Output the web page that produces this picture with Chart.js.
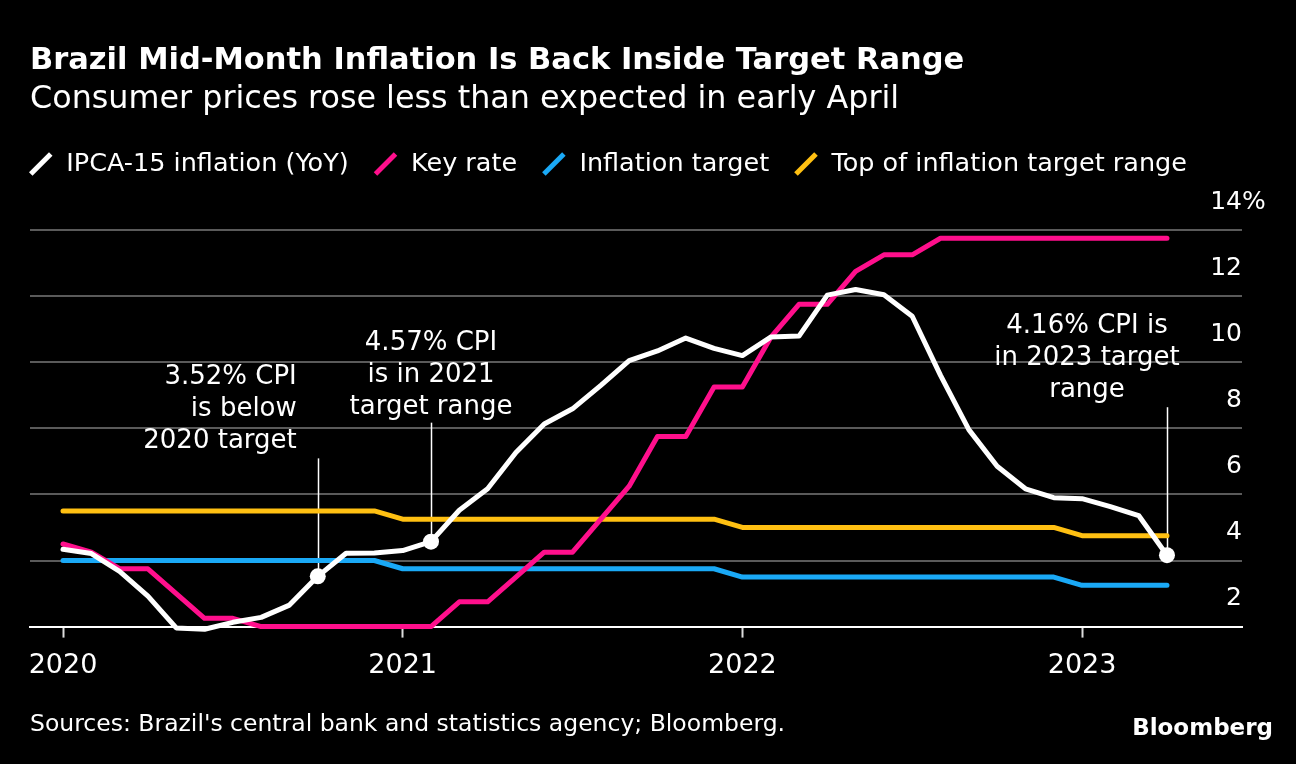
<!DOCTYPE html>
<html>
<head>
<meta charset="utf-8">
<script src="https://cdn.jsdelivr.net/npm/chart.js@4.4.0/dist/chart.umd.min.js"></script>
<style>
  html, body { margin: 0; padding: 0; background: #000; }
  #wrap { width: 1296px; height: 764px; }
</style>
</head>
<body>
<div id="wrap"><canvas id="chart" width="1296" height="764"></canvas></div>
<script>
// months, Jan 2020 - Apr 2023
var months = [
  '2020-01','2020-02','2020-03','2020-04','2020-05','2020-06','2020-07','2020-08','2020-09','2020-10','2020-11','2020-12',
  '2021-01','2021-02','2021-03','2021-04','2021-05','2021-06','2021-07','2021-08','2021-09','2021-10','2021-11','2021-12',
  '2022-01','2022-02','2022-03','2022-04','2022-05','2022-06','2022-07','2022-08','2022-09','2022-10','2022-11','2022-12',
  '2023-01','2023-02','2023-03','2023-04'
];

// IPCA-15 inflation, YoY %
var ipca = [4.34, 4.21, 3.67, 2.92, 1.96, 1.92, 2.13, 2.28, 2.65, 3.52, 4.22, 4.23,
            4.30, 4.57, 5.52, 6.17, 7.27, 8.13, 8.59, 9.30, 10.05, 10.34, 10.73, 10.42,
            10.20, 10.76, 10.79, 12.03, 12.20, 12.04, 11.39, 9.60, 7.96, 6.85, 6.17, 5.90,
            5.87, 5.63, 5.36, 4.16];

// Selic key rate %
var keyRate = [4.50, 4.25, 3.75, 3.75, 3.00, 2.25, 2.25, 2.00, 2.00, 2.00, 2.00, 2.00,
               2.00, 2.00, 2.75, 2.75, 3.50, 4.25, 4.25, 5.25, 6.25, 7.75, 7.75, 9.25,
               9.25, 10.75, 11.75, 11.75, 12.75, 13.25, 13.25, 13.75, 13.75, 13.75, 13.75, 13.75,
               13.75, 13.75, 13.75, 13.75];

var target = [4.00, 4.00, 4.00, 4.00, 4.00, 4.00, 4.00, 4.00, 4.00, 4.00, 4.00, 4.00,
              3.75, 3.75, 3.75, 3.75, 3.75, 3.75, 3.75, 3.75, 3.75, 3.75, 3.75, 3.75,
              3.50, 3.50, 3.50, 3.50, 3.50, 3.50, 3.50, 3.50, 3.50, 3.50, 3.50, 3.50,
              3.25, 3.25, 3.25, 3.25];

var targetTop = [5.50, 5.50, 5.50, 5.50, 5.50, 5.50, 5.50, 5.50, 5.50, 5.50, 5.50, 5.50,
                 5.25, 5.25, 5.25, 5.25, 5.25, 5.25, 5.25, 5.25, 5.25, 5.25, 5.25, 5.25,
                 5.00, 5.00, 5.00, 5.00, 5.00, 5.00, 5.00, 5.00, 5.00, 5.00, 5.00, 5.00,
                 4.75, 4.75, 4.75, 4.75];

var yearTicks = [0, 12, 24, 36];
var yearLabels = ['2020', '2021', '2022', '2023'];
var yTicks = [2, 4, 6, 8, 10, 12, 14];

// highlighted readings
var callouts = [
  { index: 9,  lines: ['3.52% CPI', 'is below', '2020 target'], align: 'right', dx: -21, dy: -199, lead: -118 },
  { index: 13, lines: ['4.57% CPI', 'is in 2021', 'target range'], align: 'center', dx: 0, dy: -198, lead: -119 },
  { index: 39, lines: ['4.16% CPI is', 'in 2023 target', 'range'], align: 'center', dx: -80, dy: -229, lead: -148 }
];

var FONT = "'DejaVu Sans', sans-serif";
Chart.defaults.font.family = FONT;
Chart.defaults.color = '#ffffff';

function pts(arr) {
  return months.map(function (m, i) { return { x: i, y: arr[i] }; });
}

var hiIdx = callouts.map(function (c) { return c.index; });

var ctx = document.getElementById('chart').getContext('2d');

var extras = {
  id: 'extras',
  afterLayout: function (chart) {
    // pull legend a bit left so markers line up with the title
    chart.legend.left -= 26;
    chart.legend.right -= 26;
  },
  beforeDatasetsDraw: function (chart) {
    var c = chart.ctx, xs = chart.scales.x, ys = chart.scales.y;
    c.save();
    c.strokeStyle = '#ffffff';
    c.lineWidth = 1.5;
    callouts.forEach(function (a) {
      var px = xs.getPixelForValue(a.index), py = ys.getPixelForValue(ipca[a.index]);
      c.beginPath();
      c.moveTo(Math.round(px) + 0.5, py + a.lead);
      c.lineTo(Math.round(px) + 0.5, py);
      c.stroke();
    });
    c.restore();
  },
  afterDraw: function (chart) {
    var c = chart.ctx, xs = chart.scales.x, ys = chart.scales.y, area = chart.chartArea;
    c.save();
    c.fillStyle = '#ffffff';
    c.textBaseline = 'middle';

    // y tick labels sit above their gridlines
    c.font = '25px ' + FONT;
    yTicks.forEach(function (v) {
      var y = ys.getPixelForValue(v) - 28;
      c.textAlign = 'right';
      c.fillText(String(v), area.right, y);
      if (v === 14) {
        c.textAlign = 'left';
        c.fillText('%', area.right, y);
      }
    });

    // callout text
    c.font = '26px ' + FONT;
    callouts.forEach(function (a) {
      var px = xs.getPixelForValue(a.index), py = ys.getPixelForValue(ipca[a.index]);
      c.textAlign = a.align;
      a.lines.forEach(function (t, k) {
        c.fillText(t, px + a.dx, py + a.dy + k * 32);
      });
    });

    // footer
    c.textAlign = 'left';
    c.font = '23.5px ' + FONT;
    c.fillText("Sources: Brazil's central bank and statistics agency; Bloomberg.", 30, 725);
    c.textAlign = 'right';
    c.font = 'bold 23px ' + FONT;
    c.fillText('Bloomberg', 1273, 729);
    c.restore();
  }
};

var miGrafico = new Chart(ctx, {
  type: 'line',
  data: {
    datasets: [
      {
        label: 'IPCA-15 inflation (YoY)',
        data: pts(ipca),
        borderColor: '#ffffff',
        backgroundColor: '#ffffff',
        pointRadius: months.map(function (m, i) { return hiIdx.indexOf(i) >= 0 ? 8 : 0; }),
        pointBorderWidth: 0,
        pointBackgroundColor: '#ffffff'
      },
      { label: 'Key rate', data: pts(keyRate), borderColor: '#ff0f8c', backgroundColor: '#ff0f8c', pointRadius: 0 },
      { label: 'Inflation target', data: pts(target), borderColor: '#1aa9f6', backgroundColor: '#1aa9f6', pointRadius: 0 },
      { label: 'Top of inflation target range', data: pts(targetTop), borderColor: '#ffc012', backgroundColor: '#ffc012', pointRadius: 0 }
    ]
  },
  options: {
    responsive: false,
    animation: false,
    events: [],
    layout: { padding: { top: 0, left: 30, right: 54, bottom: 70 } },
    elements: {
      line: { borderWidth: 5, tension: 0, borderCapStyle: 'round', borderJoinStyle: 'round' }
    },
    datasets: { line: { clip: false } },
    plugins: {
      title: {
        display: true,
        text: 'Brazil Mid-Month Inflation Is Back Inside Target Range',
        align: 'start',
        color: '#ffffff',
        font: { size: 30.5, weight: 'bold', lineHeight: 1.2 },
        padding: { top: 42.7, bottom: 0 }
      },
      subtitle: {
        display: true,
        text: 'Consumer prices rose less than expected in early April',
        align: 'start',
        color: '#ffffff',
        font: { size: 31.8, weight: 'normal', lineHeight: 1.2 },
        padding: { top: 1.6, bottom: 8.2 }
      },
      legend: {
        display: true,
        position: 'top',
        align: 'start',
        labels: {
          usePointStyle: true,
          boxWidth: 26,
          boxHeight: 20,
          padding: 24,
          color: '#ffffff',
          font: { size: 25.5 },
          generateLabels: function (chart) {
            return chart.data.datasets.map(function (d, i) {
              return {
                text: d.label,
                fillStyle: d.borderColor,
                strokeStyle: d.borderColor,
                lineWidth: 5,
                lineCap: 'butt',
                pointStyle: 'line',
                rotation: -45,
                fontColor: '#ffffff',
                hidden: false,
                datasetIndex: i
              };
            });
          }
        }
      },
      tooltip: { enabled: false }
    },
    scales: {
      x: {
        type: 'linear',
        min: -1.166,
        max: 41.65,
        afterBuildTicks: function (s) {
          s.ticks = yearTicks.map(function (v) { return { value: v }; });
        },
        ticks: {
          autoSkip: false,
          maxRotation: 0,
          padding: 12,
          color: '#ffffff',
          font: { size: 27 },
          callback: function (v) { return yearLabels[yearTicks.indexOf(v)]; }
        },
        grid: { display: true, drawOnChartArea: false, drawTicks: true, tickLength: 11, tickColor: '#dddddd', tickWidth: 2 },
        border: { display: true, color: '#ffffff', width: 2 }
      },
      top: {
        type: 'linear',
        position: 'top',
        axis: 'x',
        display: true,
        grid: { display: false },
        border: { display: false },
        ticks: { display: false },
        afterFit: function (s) { s.height = 43.25; }
      },
      y: {
        type: 'linear',
        position: 'right',
        min: 2,
        max: 14,
        afterBuildTicks: function (s) {
          s.ticks = yTicks.map(function (v) { return { value: v }; });
        },
        ticks: { display: false },
        grid: {
          drawTicks: false,
          lineWidth: 2,
          color: function (c) { return c.tick && c.tick.value === 2 ? 'rgba(0,0,0,0)' : '#5a5a5a'; }
        },
        border: { display: false },
        afterFit: function (s) { s.width = 0; }
      }
    }
  },
  plugins: [extras]
});
</script>
</body>
</html>
